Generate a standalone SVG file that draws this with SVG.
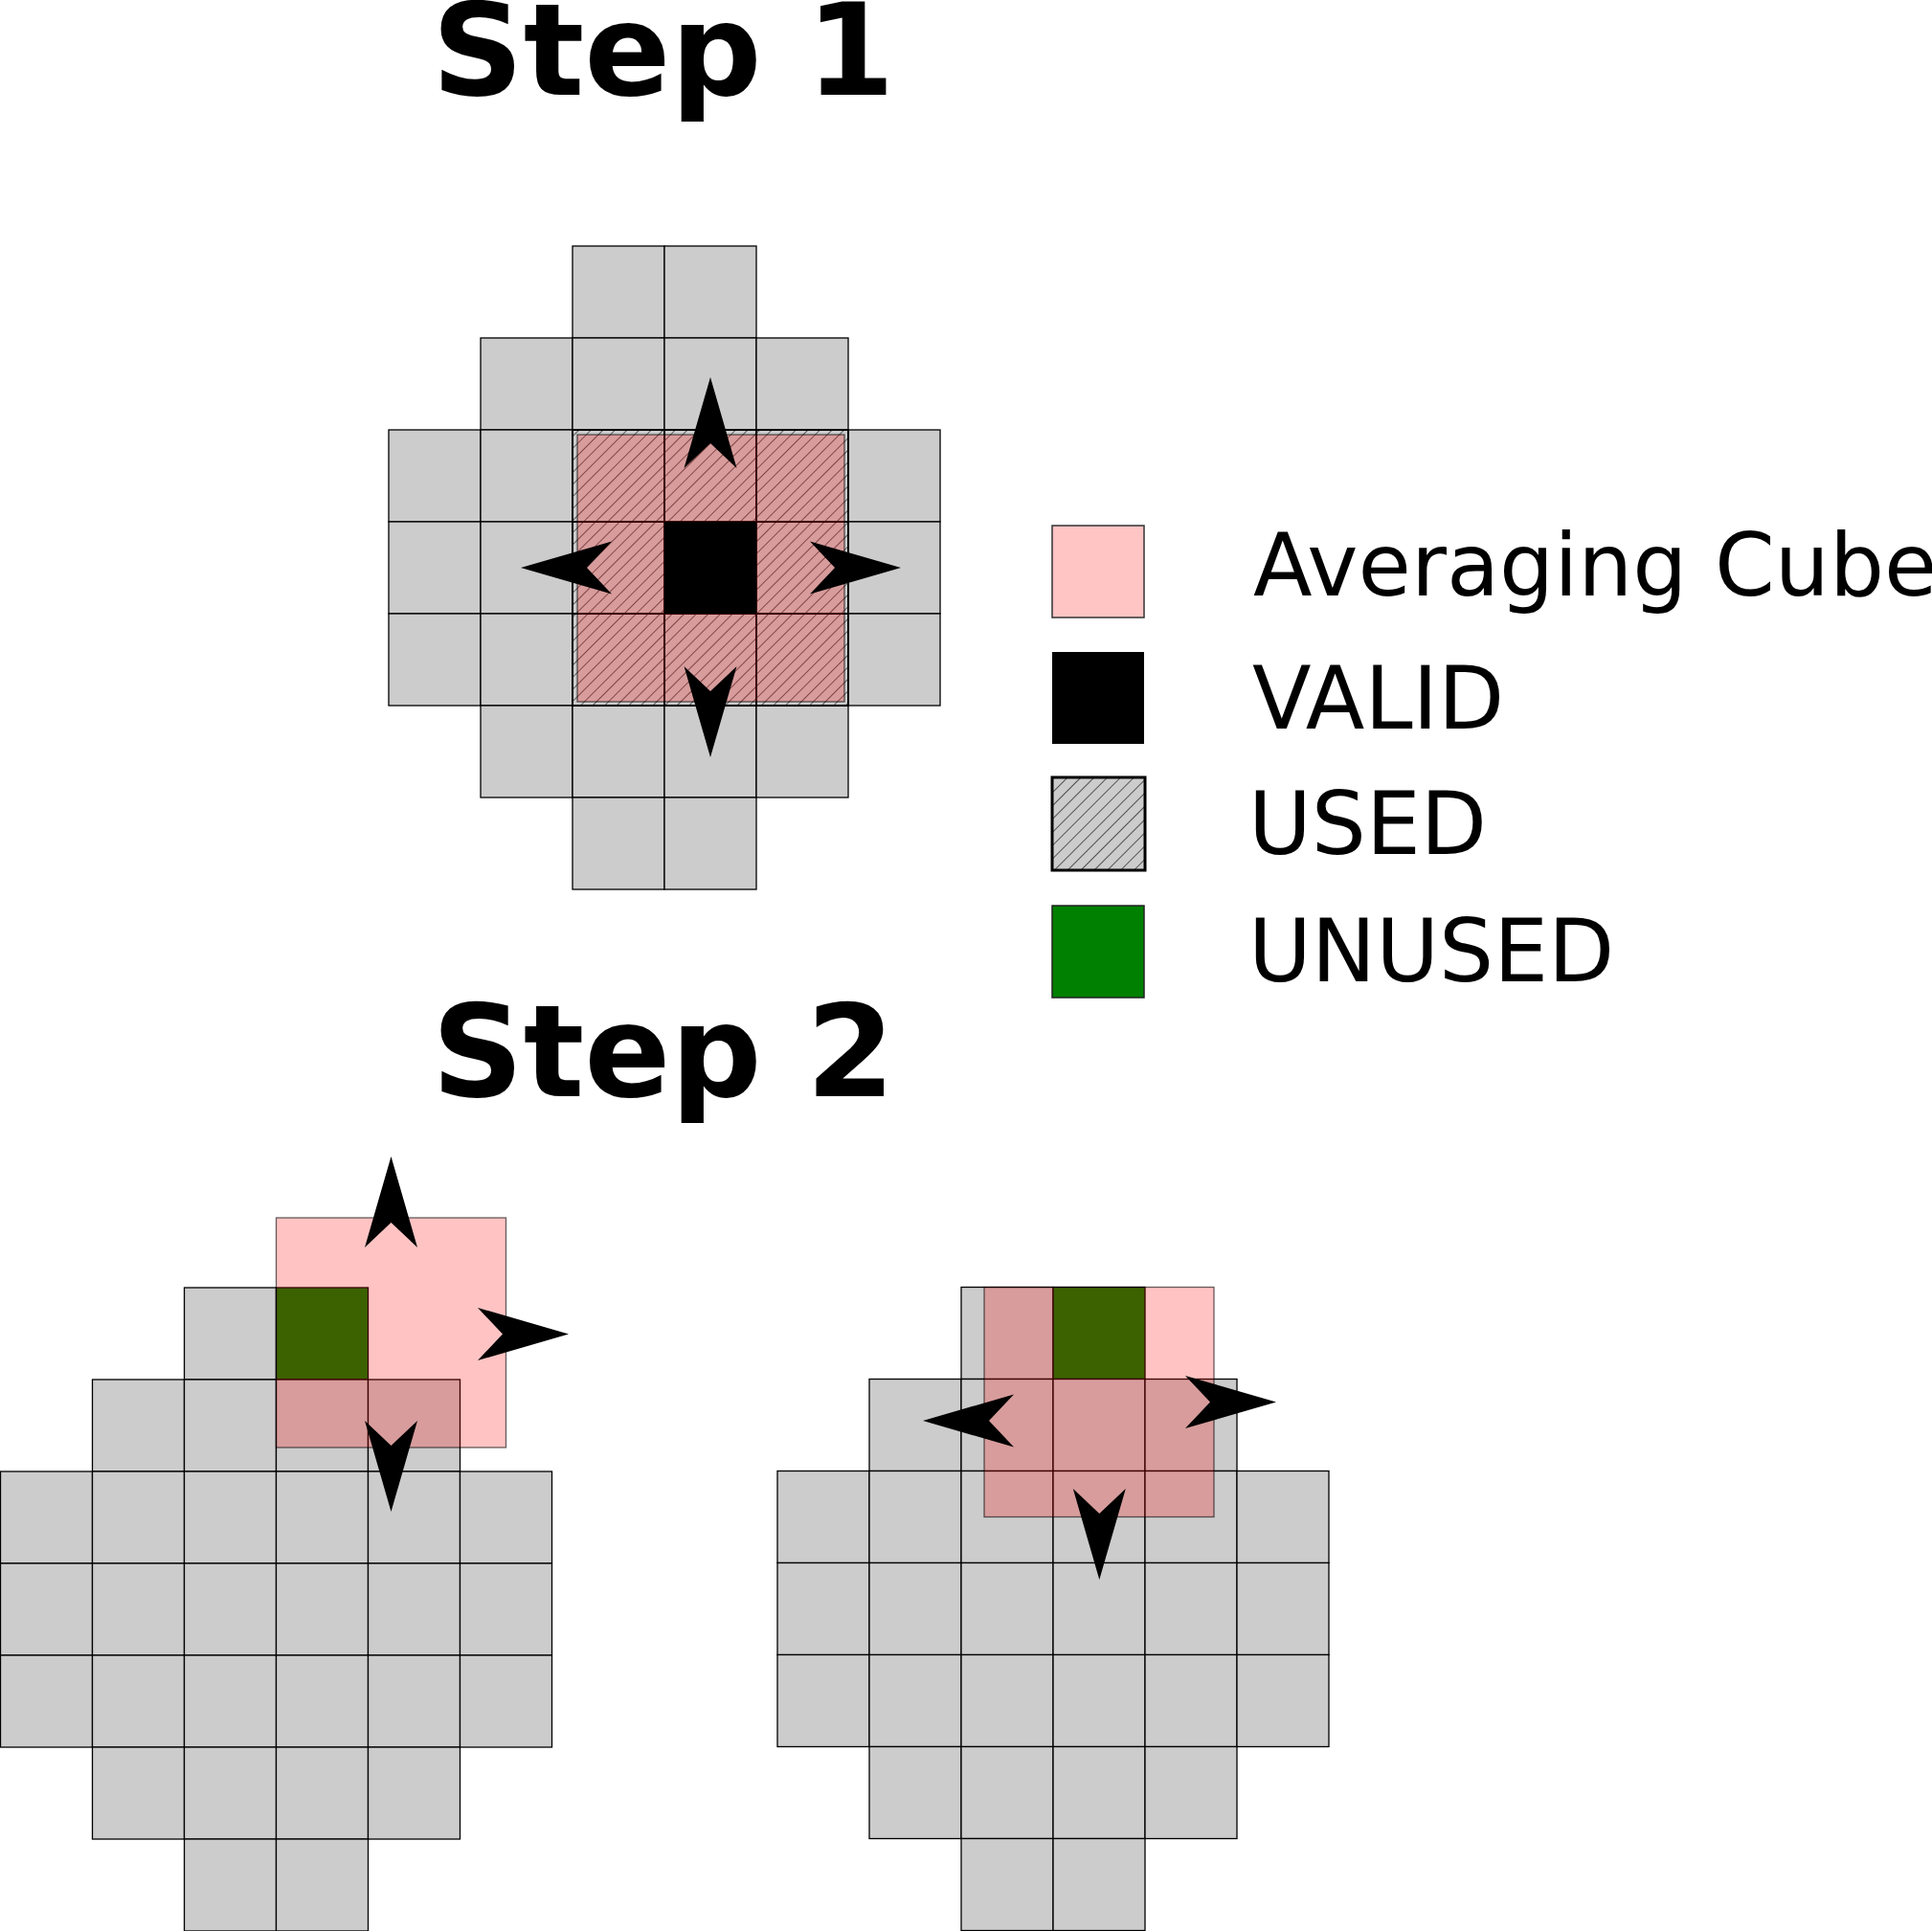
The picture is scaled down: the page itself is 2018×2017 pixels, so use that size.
<svg xmlns="http://www.w3.org/2000/svg" xmlns:xlink="http://www.w3.org/1999/xlink" width="2018" height="2017" viewBox="0 0 2018 2017">
<style>
.cell{fill:#cccccc;stroke:#000;stroke-width:1.3}
.used{fill:url(#hatch);stroke:#000;stroke-width:2}
.avg{fill:#ff0000;fill-opacity:0.235;stroke:#000;stroke-opacity:0.6;stroke-width:1.3}
.green{fill:#008000;stroke:#000;stroke-width:1.3}
.title{font-family:"DejaVu Sans",sans-serif;font-weight:bold;font-size:133px;fill:#000}
.lbl{font-family:"DejaVu Sans",sans-serif;font-size:90px;fill:#000}
</style>
<defs>
<pattern id="hatchLines" patternUnits="userSpaceOnUse" width="8.9" height="8.9" patternTransform="rotate(45)">
<line x1="0" y1="0" x2="0" y2="8.9" stroke="#000" stroke-width="1.1"/>
</pattern>
<pattern id="hatch" patternUnits="userSpaceOnUse" width="2018" height="2017">
<rect width="2018" height="2017" fill="#cccccc"/>
<rect width="2018" height="2017" fill="url(#hatchLines)"/>
</pattern>
<pattern id="hatchLines2" patternUnits="userSpaceOnUse" width="9.8" height="9.8" patternTransform="rotate(45)">
<line x1="0" y1="0" x2="0" y2="9.8" stroke="#000" stroke-width="1.2"/>
</pattern>
<path id="arrow" d="M95,0 L0,-27.5 L26,0 L0,27.5 Z" fill="#000"/>
</defs>

<g id="title-step1"><text class="title" x="451" y="99">Step 1</text></g>
<g id="title-step2"><text class="title" x="451" y="1145">Step 2</text></g>

<g id="step1-grid" transform="translate(406,257)">
<rect class="cell" x="192" y="0" width="96" height="96"/>
<rect class="cell" x="288" y="0" width="96" height="96"/>
<rect class="cell" x="96" y="96" width="96" height="96"/>
<rect class="cell" x="192" y="96" width="96" height="96"/>
<rect class="cell" x="288" y="96" width="96" height="96"/>
<rect class="cell" x="384" y="96" width="96" height="96"/>
<rect class="cell" x="0" y="192" width="96" height="96"/>
<rect class="cell" x="96" y="192" width="96" height="96"/>
<rect class="cell" x="480" y="192" width="96" height="96"/>
<rect class="cell" x="0" y="288" width="96" height="96"/>
<rect class="cell" x="96" y="288" width="96" height="96"/>
<rect class="cell" x="480" y="288" width="96" height="96"/>
<rect class="cell" x="0" y="384" width="96" height="96"/>
<rect class="cell" x="96" y="384" width="96" height="96"/>
<rect class="cell" x="480" y="384" width="96" height="96"/>
<rect class="cell" x="96" y="480" width="96" height="96"/>
<rect class="cell" x="192" y="480" width="96" height="96"/>
<rect class="cell" x="288" y="480" width="96" height="96"/>
<rect class="cell" x="384" y="480" width="96" height="96"/>
<rect class="cell" x="192" y="576" width="96" height="96"/>
<rect class="cell" x="288" y="576" width="96" height="96"/>
<rect class="used" x="192" y="192" width="96" height="96"/>
<rect class="used" x="288" y="192" width="96" height="96"/>
<rect class="used" x="384" y="192" width="96" height="96"/>
<rect class="used" x="192" y="288" width="96" height="96"/>
<rect class="used" x="384" y="288" width="96" height="96"/>
<rect class="used" x="192" y="384" width="96" height="96"/>
<rect class="used" x="288" y="384" width="96" height="96"/>
<rect class="used" x="384" y="384" width="96" height="96"/>
</g>
<g id="step1-averaging-cube"><rect class="avg" x="603" y="454" width="279" height="279"/></g>
<g id="step1-valid"><rect x="694" y="545" width="96" height="96" fill="#000"/></g>

<g id="step2a-grid" transform="translate(0.5,1345)">
<rect class="cell" x="192" y="0" width="96" height="96"/>
<rect class="green" x="288" y="0" width="96" height="96"/>
<rect class="cell" x="96" y="96" width="96" height="96"/>
<rect class="cell" x="192" y="96" width="96" height="96"/>
<rect class="cell" x="288" y="96" width="96" height="96"/>
<rect class="cell" x="384" y="96" width="96" height="96"/>
<rect class="cell" x="0" y="192" width="96" height="96"/>
<rect class="cell" x="96" y="192" width="96" height="96"/>
<rect class="cell" x="192" y="192" width="96" height="96"/>
<rect class="cell" x="288" y="192" width="96" height="96"/>
<rect class="cell" x="384" y="192" width="96" height="96"/>
<rect class="cell" x="480" y="192" width="96" height="96"/>
<rect class="cell" x="0" y="288" width="96" height="96"/>
<rect class="cell" x="96" y="288" width="96" height="96"/>
<rect class="cell" x="192" y="288" width="96" height="96"/>
<rect class="cell" x="288" y="288" width="96" height="96"/>
<rect class="cell" x="384" y="288" width="96" height="96"/>
<rect class="cell" x="480" y="288" width="96" height="96"/>
<rect class="cell" x="0" y="384" width="96" height="96"/>
<rect class="cell" x="96" y="384" width="96" height="96"/>
<rect class="cell" x="192" y="384" width="96" height="96"/>
<rect class="cell" x="288" y="384" width="96" height="96"/>
<rect class="cell" x="384" y="384" width="96" height="96"/>
<rect class="cell" x="480" y="384" width="96" height="96"/>
<rect class="cell" x="96" y="480" width="96" height="96"/>
<rect class="cell" x="192" y="480" width="96" height="96"/>
<rect class="cell" x="288" y="480" width="96" height="96"/>
<rect class="cell" x="384" y="480" width="96" height="96"/>
<rect class="cell" x="192" y="576" width="96" height="96"/>
<rect class="cell" x="288" y="576" width="96" height="96"/>
</g>
<g id="step2a-averaging-cube"><rect class="avg" x="288.5" y="1272" width="240" height="240"/></g>

<g id="step2b-grid" transform="translate(812,1344.5)">
<rect class="cell" x="192" y="0" width="96" height="96"/>
<rect class="green" x="288" y="0" width="96" height="96"/>
<rect class="cell" x="96" y="96" width="96" height="96"/>
<rect class="cell" x="192" y="96" width="96" height="96"/>
<rect class="cell" x="288" y="96" width="96" height="96"/>
<rect class="cell" x="384" y="96" width="96" height="96"/>
<rect class="cell" x="0" y="192" width="96" height="96"/>
<rect class="cell" x="96" y="192" width="96" height="96"/>
<rect class="cell" x="192" y="192" width="96" height="96"/>
<rect class="cell" x="288" y="192" width="96" height="96"/>
<rect class="cell" x="384" y="192" width="96" height="96"/>
<rect class="cell" x="480" y="192" width="96" height="96"/>
<rect class="cell" x="0" y="288" width="96" height="96"/>
<rect class="cell" x="96" y="288" width="96" height="96"/>
<rect class="cell" x="192" y="288" width="96" height="96"/>
<rect class="cell" x="288" y="288" width="96" height="96"/>
<rect class="cell" x="384" y="288" width="96" height="96"/>
<rect class="cell" x="480" y="288" width="96" height="96"/>
<rect class="cell" x="0" y="384" width="96" height="96"/>
<rect class="cell" x="96" y="384" width="96" height="96"/>
<rect class="cell" x="192" y="384" width="96" height="96"/>
<rect class="cell" x="288" y="384" width="96" height="96"/>
<rect class="cell" x="384" y="384" width="96" height="96"/>
<rect class="cell" x="480" y="384" width="96" height="96"/>
<rect class="cell" x="96" y="480" width="96" height="96"/>
<rect class="cell" x="192" y="480" width="96" height="96"/>
<rect class="cell" x="288" y="480" width="96" height="96"/>
<rect class="cell" x="384" y="480" width="96" height="96"/>
<rect class="cell" x="192" y="576" width="96" height="96"/>
<rect class="cell" x="288" y="576" width="96" height="96"/>
</g>
<g id="step2b-averaging-cube"><rect class="avg" x="1028" y="1344.5" width="240" height="240"/></g>

<g id="connectors">
<use xlink:href="#arrow" href="#arrow" transform="translate(742,489) rotate(-90)"/>
<use xlink:href="#arrow" href="#arrow" transform="translate(742,696) rotate(90)"/>
<use xlink:href="#arrow" href="#arrow" transform="translate(639,593) rotate(180)"/>
<use xlink:href="#arrow" href="#arrow" transform="translate(846,593)"/>
<use xlink:href="#arrow" href="#arrow" transform="translate(408.5,1303) rotate(-90)"/>
<use xlink:href="#arrow" href="#arrow" transform="translate(408.5,1484) rotate(90)"/>
<use xlink:href="#arrow" href="#arrow" transform="translate(499,1393.5)"/>
<use xlink:href="#arrow" href="#arrow" transform="translate(1059,1484) rotate(180)"/>
<use xlink:href="#arrow" href="#arrow" transform="translate(1238,1464.5)"/>
<use xlink:href="#arrow" href="#arrow" transform="translate(1148.3,1555) rotate(90)"/>
</g>

<g id="legend-averaging">
<rect x="1099" y="549" width="96" height="96" fill="#ffc4c4" stroke="#333" stroke-width="1.5"/>
<text class="lbl" x="1309" y="622">Averaging Cube</text>
</g>
<g id="legend-valid">
<rect x="1099" y="681" width="96" height="96" fill="#000"/>
<text class="lbl" x="1308" y="761">VALID</text>
</g>
<g id="legend-used">
<rect x="1099" y="812" width="97" height="97" fill="#cccccc"/>
<rect x="1099" y="812" width="97" height="97" fill="url(#hatchLines2)" stroke="#000" stroke-width="3"/>
<text class="lbl" x="1304" y="892">USED</text>
</g>
<g id="legend-unused">
<rect x="1099" y="946" width="96" height="96" fill="#008000" stroke="#222" stroke-width="1.5"/>
<text class="lbl" x="1304" y="1025">UNUSED</text>
</g>
</svg>
